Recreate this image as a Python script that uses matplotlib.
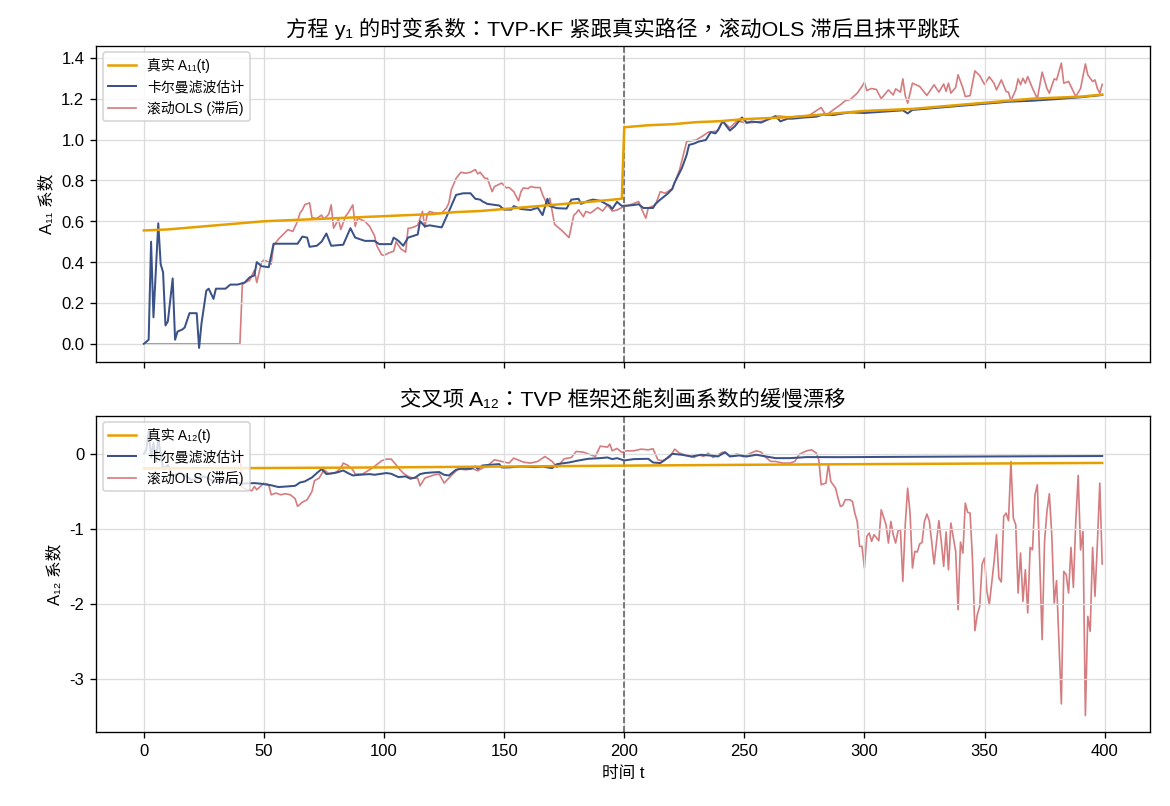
import matplotlib
matplotlib.use('Agg')
import matplotlib.pyplot as plt

plt.rcParams['font.family'] = ['Liberation Sans', 'Noto Sans CJK TC', 'DejaVu Sans']
plt.rcParams['axes.unicode_minus'] = False

# ---- top panel: A11 ----
t_a11 = [0, 10, 20, 30, 40, 50, 60, 70, 80, 90, 100, 110, 120, 130, 140, 150, 160, 170, 180, 190, 199,
         200, 210, 220, 230, 240, 250, 260, 270, 280, 290, 300, 310, 320, 330, 340, 350, 360, 370, 380, 390, 399]
a11_true = [0.555, 0.56, 0.57, 0.58, 0.59, 0.60, 0.605, 0.61, 0.615, 0.62, 0.625, 0.63, 0.635, 0.645, 0.65,
            0.66, 0.67, 0.68, 0.69, 0.70, 0.71,
            1.06, 1.07, 1.075, 1.085, 1.09, 1.10, 1.105, 1.11, 1.12, 1.13, 1.14, 1.145, 1.15, 1.16, 1.17,
            1.18, 1.19, 1.20, 1.205, 1.21, 1.22]

t_kf1 = [0, 2, 3, 4, 6, 7, 8, 9, 10, 12, 13, 14, 16, 17, 19, 22, 23, 24, 26, 27, 29, 30, 34, 36, 39, 42, 44,
         46, 47, 49, 52, 54, 57, 64, 66, 68, 69, 72, 74, 76, 78, 83, 86, 88, 92, 96, 98, 103, 104, 106, 108,
         110, 114, 115, 117, 119, 124, 127, 130, 133, 136, 138, 140, 141, 143, 148, 150, 153, 154, 157, 161,
         164, 166, 168, 169, 172, 176, 178, 181, 182, 185, 187, 190, 194, 195, 197, 199, 203, 206, 208, 212,
         213, 215, 218, 220, 221, 224, 226, 227, 229, 231, 234, 236, 238, 239, 241, 244, 246, 249, 251, 253,
         257, 259, 263, 265, 268, 270, 275, 280, 283, 287, 294, 300, 310, 316, 318, 320, 330, 340, 350, 360,
         370, 380, 390, 399]
kf1 = [0.0, 0.02, 0.50, 0.13, 0.59, 0.39, 0.35, 0.09, 0.11, 0.32, 0.02, 0.06, 0.07, 0.08, 0.15, 0.15, -0.02,
       0.10, 0.26, 0.27, 0.22, 0.27, 0.27, 0.29, 0.29, 0.30, 0.325, 0.335, 0.40, 0.38, 0.375, 0.49, 0.49, 0.49,
       0.525, 0.52, 0.475, 0.48, 0.50, 0.54, 0.48, 0.485, 0.566, 0.52, 0.504, 0.504, 0.488, 0.488, 0.52, 0.504,
       0.48, 0.52, 0.535, 0.60, 0.575, 0.58, 0.57, 0.648, 0.729, 0.737, 0.737, 0.71, 0.706, 0.697, 0.685,
       0.677, 0.657, 0.657, 0.674, 0.66, 0.655, 0.666, 0.63, 0.71, 0.674, 0.664, 0.662, 0.706, 0.71, 0.685,
       0.70, 0.706, 0.70, 0.675, 0.66, 0.695, 0.675, 0.678, 0.683, 0.665, 0.665, 0.685, 0.706, 0.734, 0.758,
       0.79, 0.86, 0.925, 0.974, 0.98, 0.99, 0.998, 1.036, 1.03, 1.046, 1.09, 1.044, 1.064, 1.108, 1.083,
       1.088, 1.083, 1.094, 1.115, 1.089, 1.102, 1.102, 1.108, 1.112, 1.123, 1.12, 1.133, 1.13, 1.138, 1.143,
       1.128, 1.145, 1.155, 1.165, 1.175, 1.185, 1.19, 1.198, 1.207, 1.218]

t_ols1 = [0, 40, 41, 42, 44, 46, 47, 49, 50, 52, 53, 54, 56, 60, 62, 64, 65, 66, 67, 69, 70, 72, 74, 75, 77,
          78, 79, 81, 82, 84, 85, 87, 88, 89, 92, 94, 96, 97, 99, 100, 102, 104, 105, 107, 109, 110, 112, 114,
          116, 117, 118, 119, 121, 124, 126, 127, 128, 130, 132, 134, 136, 138, 139, 140, 142, 143, 145, 146,
          149, 151, 152, 154, 156, 157, 158, 160, 161, 163, 165, 166, 168, 169, 171, 174, 177, 179, 180, 181,
          183, 184, 186, 189, 191, 193, 195, 197, 199, 201, 204, 206, 208, 209, 210, 213, 215, 217, 220, 223,
          226, 230, 233, 235, 239, 241, 244, 247, 251, 258, 264, 269, 277, 282, 284, 287, 290, 292, 294, 297,
          299, 300, 301, 303, 305, 307, 310, 312, 313, 315, 316, 317, 318, 320, 323, 326, 329, 331, 333, 334,
          335, 336, 338, 339, 341, 342, 344, 346, 348, 350, 352, 354, 355, 357, 359, 360, 361, 363, 364, 365,
          366, 367, 368, 370, 372, 374, 376, 377, 379, 380, 382, 383, 385, 386, 388, 390, 392, 393, 395, 396,
          397, 398, 399]
ols1 = [0.0, 0.0, 0.29, 0.30, 0.31, 0.36, 0.30, 0.40, 0.41, 0.40, 0.39, 0.48, 0.512, 0.559, 0.55, 0.60, 0.64,
        0.656, 0.681, 0.69, 0.617, 0.614, 0.63, 0.61, 0.635, 0.68, 0.566, 0.61, 0.56, 0.625, 0.64, 0.68, 0.575,
        0.615, 0.60, 0.575, 0.53, 0.48, 0.436, 0.433, 0.445, 0.453, 0.50, 0.465, 0.449, 0.565, 0.57, 0.58,
        0.648, 0.57, 0.635, 0.648, 0.64, 0.64, 0.665, 0.69, 0.754, 0.81, 0.84, 0.835, 0.84, 0.853, 0.832,
        0.84, 0.81, 0.81, 0.745, 0.77, 0.787, 0.763, 0.766, 0.745, 0.70, 0.745, 0.763, 0.76, 0.77, 0.765,
        0.765, 0.73, 0.68, 0.713, 0.585, 0.555, 0.52, 0.63, 0.64, 0.656, 0.622, 0.648, 0.64, 0.667, 0.65, 0.68,
        0.65, 0.655, 0.667, 0.675, 0.687, 0.697, 0.64, 0.615, 0.665, 0.68, 0.745, 0.737, 0.76, 0.85, 0.99,
        0.998, 1.02, 1.036, 1.042, 1.09, 1.057, 1.092, 1.08, 1.09, 1.115, 1.11, 1.118, 1.157, 1.118, 1.145,
        1.17, 1.19, 1.195, 1.227, 1.26, 1.28, 1.24, 1.25, 1.245, 1.20, 1.243, 1.218, 1.248, 1.232, 1.297, 1.215,
        1.178, 1.276, 1.26, 1.216, 1.268, 1.232, 1.272, 1.236, 1.276, 1.227, 1.255, 1.317, 1.252, 1.21, 1.215,
        1.336, 1.313, 1.27, 1.307, 1.275, 1.243, 1.292, 1.235, 1.232, 1.19, 1.243, 1.297, 1.268, 1.30, 1.276,
        1.308, 1.25, 1.20, 1.33, 1.25, 1.227, 1.297, 1.292, 1.374, 1.276, 1.284, 1.26, 1.21, 1.25, 1.37, 1.317,
        1.284, 1.292, 1.25, 1.227, 1.27]

# ---- bottom panel: A12 ----
t_a12 = [0, 50, 100, 150, 200, 250, 300, 350, 399]
a12_true = [-0.195, -0.19, -0.182, -0.17, -0.158, -0.147, -0.138, -0.13, -0.122]

t_kf2 = [0, 1, 2, 3, 4, 5, 6, 8, 10, 12, 15, 20, 25, 30, 35, 40, 46, 49, 53, 56, 60, 63, 65, 67, 70, 72, 74,
         76, 79, 81, 83, 85, 87, 90, 94, 96, 101, 103, 106, 109, 111, 113, 115, 117, 120, 123, 125, 127, 130,
         132, 136, 138, 139, 141, 144, 148, 149, 152, 157, 163, 166, 168, 170, 172, 177, 181, 185, 190, 193,
         195, 197, 200, 204, 210, 212, 215, 217, 220, 224, 228, 232, 237, 239, 242, 244, 248, 251, 255, 259,
         263, 269, 276, 290, 320, 350, 380, 399]
kf2 = [0.0, 0.05, 0.30, -0.05, 0.15, -0.10, 0.20, -0.20, -0.15, -0.30, -0.25, -0.35, -0.30, -0.38, -0.35,
       -0.40, -0.391, -0.40, -0.42, -0.444, -0.435, -0.427, -0.383, -0.369, -0.316, -0.258, -0.204, -0.271,
       -0.258, -0.244, -0.222, -0.258, -0.289, -0.28, -0.271, -0.28, -0.257, -0.267, -0.311, -0.302, -0.333,
       -0.316, -0.271, -0.257, -0.249, -0.244, -0.28, -0.289, -0.213, -0.2, -0.2, -0.169, -0.2, -0.156,
       -0.147, -0.138, -0.182, -0.182, -0.169, -0.178, -0.169, -0.182, -0.191, -0.138, -0.116, -0.089,
       -0.067, -0.058, -0.049, -0.071, -0.058, -0.089, -0.071, -0.067, -0.116, -0.124, -0.08, 0.0, -0.013,
       -0.036, -0.013, -0.027, -0.036, 0.022, -0.036, -0.022, -0.036, -0.013, -0.036, -0.058, -0.058,
       -0.044, -0.045, -0.04, -0.036, -0.032, -0.03]

t_ols2 = [0, 40, 41, 43, 45, 46, 47, 50, 52, 53,
          55, 57, 59, 61, 63, 64, 66, 68, 70, 71,
          73, 75, 77, 80, 82, 83, 85, 87, 88, 91,
          94, 96, 99, 101, 103, 105, 106, 108, 110, 112,
          114, 115, 117, 119, 121, 123, 125, 127, 129, 131,
          134, 137, 139, 141, 143, 146, 149, 152, 154, 158,
          161, 164, 167, 170, 172, 175, 178, 180, 183, 186,
          188, 190, 193, 194, 195, 197, 199, 201, 204, 207,
          210, 212, 214, 216, 219, 221, 223, 226, 229, 231,
          233, 235, 237, 239, 241, 244, 247, 250, 252, 255,
          257, 259, 261, 263, 266, 269, 271, 273, 276, 278,
          280, 281, 282, 284, 285, 286, 288, 289, 290, 291,
          292, 294, 295, 296, 297, 298, 299, 300, 301, 302,
          303, 304, 306, 307, 309, 310, 311, 312, 313, 314,
          315, 316, 317, 318, 319, 320, 321, 322, 323, 324,
          325, 326, 327, 328, 329, 331, 332, 333, 334, 335,
          336, 338, 339, 340, 341, 342, 343, 344, 345, 346,
          347, 348, 349, 350, 351, 352, 353, 354, 355, 356,
          357, 358, 359, 360, 361, 362, 363, 364, 365, 366,
          367, 368, 369, 370, 371, 372, 374, 375, 376, 377,
          378, 379, 380, 381, 382, 383, 384, 385, 386, 387,
          388, 389, 390, 391, 392, 393, 394, 395, 396, 397,
          398, 399]
ols2 = [0.0, 0.0, -0.45, -0.48, -0.493, -0.436, -0.48, -0.391, -0.413, -0.547,
        -0.524, -0.547, -0.533, -0.547, -0.6, -0.702, -0.645, -0.613, -0.502, -0.36,
        -0.324, -0.213, -0.267, -0.249, -0.191, -0.124, -0.156, -0.213, -0.271, -0.271,
        -0.213, -0.169, -0.093, -0.071, -0.071, -0.147, -0.191, -0.258, -0.302, -0.324,
        -0.324, -0.427, -0.324, -0.302, -0.28, -0.271, -0.391, -0.324, -0.258, -0.2,
        -0.213, -0.2, -0.227, -0.191, -0.16, -0.08, -0.102, -0.124, -0.058, -0.111,
        -0.124, -0.102, -0.036, -0.102, -0.182, -0.067, -0.049, 0.031, 0.022, -0.013,
        -0.036, 0.102, 0.089, 0.129, 0.04, 0.071, 0.018, 0.04, 0.04, 0.062,
        0.053, 0.067, -0.08, -0.093, -0.044, 0.062, 0.009, -0.022, -0.049, -0.013,
        -0.036, 0.009, -0.049, -0.013, 0.022, -0.022, -0.004, -0.044, 0.0, 0.04,
        0.022, -0.049, -0.102, -0.102, -0.124, -0.124, -0.102, -0.004, 0.04, 0.053,
        0.009, -0.08, -0.413, -0.391, -0.138, -0.369, -0.458, -0.591, -0.702, -0.689,
        -0.613, -0.613, -0.636, -0.791, -0.902, -1.236, -1.236, -1.524, -1.102, -1.058,
        -1.169, -1.08, -1.16, -0.747, -0.947, -1.191, -0.902, -1.08, -1.191, -1.027,
        -1.013, -1.702, -0.947, -0.458, -0.791, -1.524, -1.302, -1.311, -1.204, -1.182,
        -0.902, -0.804, -0.893, -1.169, -1.471, -0.893, -1.169, -1.502, -1.044, -1.547,
        -0.924, -1.302, -2.08, -1.178, -1.324, -0.658, -0.782, -0.791, -1.413, -2.36,
        -2.147, -2.036, -1.471, -1.391, -1.836, -2.013, -1.724, -1.436, -1.08, -1.658,
        -1.711, -0.836, -0.791, -0.893, -0.102, -0.858, -0.947, -1.858, -1.324, -1.969,
        -1.547, -2.124, -1.249, -1.28, -0.547, -0.413, -2.48, -1.169, -0.769, -0.533,
        -1.08, -1.991, -1.693, -2.502, -3.338, -1.569, -1.613, -1.858, -1.249, -1.782,
        -0.902, -0.289, -1.284, -1.036, -3.493, -2.169, -2.369, -1.249, -1.902, -1.191,
        -0.391, -1.471]

c_true = '#E69F00'
c_kf = '#3A5287'
c_ols = '#D47C7F'

fig, (ax1, ax2) = plt.subplots(2, 1, figsize=(9.75, 6.72), dpi=120, sharex=True)
fig.subplots_adjust(left=0.082, right=0.983, top=0.943, bottom=0.092, hspace=0.17)

ax1.plot(t_a11, a11_true, color=c_true, lw=1.5, label='真实 A₁₁(t)', zorder=3)
ax1.plot(t_kf1, kf1, color=c_kf, lw=1.2, label='卡尔曼滤波估计', zorder=2)
ax1.plot(t_ols1, ols1, color=c_ols, lw=1.0, label='滚动OLS (滞后)', zorder=1)
ax1.axvline(200, color='#666666', ls='--', lw=1.0)
ax1.set_ylim(-0.088, 1.46)
ax1.set_ylabel('A₁₁ 系数')
ax1.set_title('方程 y₁ 的时变系数：TVP-KF 紧跟真实路径，滚动OLS 滞后且抹平跳跃', fontsize=12.8)
ax1.grid(True, color='#dddddd', lw=0.8)
ax1.legend(loc='upper left', fontsize=8.3)

ax2.plot(t_a12, a12_true, color=c_true, lw=1.5, label='真实 A₁₂(t)', zorder=3)
ax2.plot(t_kf2, kf2, color=c_kf, lw=1.2, label='卡尔曼滤波估计', zorder=2)
ax2.plot(t_ols2, ols2, color=c_ols, lw=1.0, label='滚动OLS (滞后)', zorder=1)
ax2.axvline(200, color='#666666', ls='--', lw=1.0)
ax2.set_ylim(-3.71, 0.51)
ax2.set_yticks([0, -1, -2, -3])
ax2.set_ylabel('A₁₂ 系数')
ax2.set_xlabel('时间 t')
ax2.set_title('交叉项 A₁₂：TVP 框架还能刻画系数的缓慢漂移', fontsize=12.8)
ax2.grid(True, color='#dddddd', lw=0.8)
ax2.legend(loc='upper left', fontsize=8.3)
ax2.set_xticks([0, 50, 100, 150, 200, 250, 300, 350, 400])

fig.savefig('out.png', dpi=120)
